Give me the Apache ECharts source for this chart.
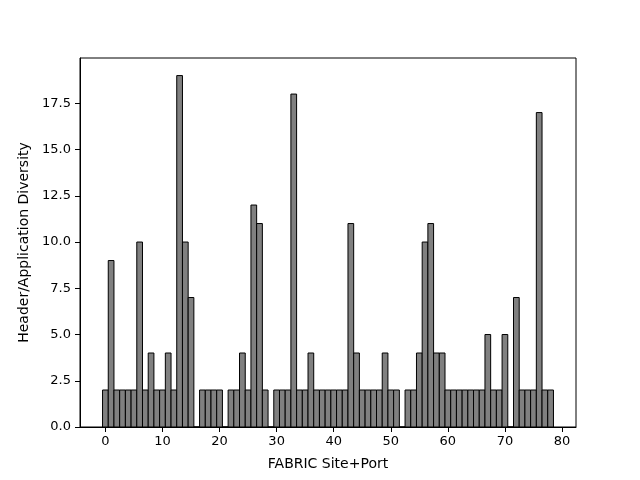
<!DOCTYPE html>
<html>
<head>
    <meta charset="UTF-8">
    <title>diversity</title>
    <script type="text/javascript" src="https://cdn.jsdelivr.net/npm/echarts@6/dist/echarts.min.js"></script>
    <style>
        html, body { margin: 0; padding: 0; background: #fff; }
        #charts { width: 640px; height: 480px; }
    </style>
</head>
<body>
<div id="charts"></div>
<script type="text/javascript">
    // site+port index and diversity per index
    var sites = [];
    for (var i = 0; i <= 78; i++) { sites.push(i); }
    var diversity = [
        2, 9, 2, 2, 2, 2, 10, 2, 4, 2,
        2, 4, 2, 19, 10, 7, 0, 2, 2, 2,
        2, 0, 2, 2, 4, 2, 12, 11, 2, 0,
        2, 2, 2, 18, 2, 2, 4, 2, 2, 2,
        2, 2, 2, 11, 4, 2, 2, 2, 2, 4,
        2, 2, 0, 2, 2, 4, 10, 11, 4, 4,
        2, 2, 2, 2, 2, 2, 2, 5, 2, 2,
        5, 0, 7, 2, 2, 2, 17, 2, 2
    ];
    var xTicks = [0, 10, 20, 30, 40, 50, 60, 70, 80];
    var yTicks = [0, 2.5, 5, 7.5, 10, 12.5, 15, 17.5];

    var data = [];
    for (var k = 0; k < sites.length; k++) {
        data.push([sites[k], diversity[k]]);
    }

    var font = 'DejaVu Sans';
    var chart = echarts.init(document.getElementById('charts'));
    var option = {
        animation: false,
        grid: {
            left: 80, right: 64, top: 58, bottom: 53,
            show: true, borderColor: '#000', borderWidth: 1, backgroundColor: 'transparent'
        },
        xAxis: {
            type: 'value',
            min: -4.45,
            max: 82.45,
            name: 'FABRIC Site+Port',
            nameLocation: 'middle',
            nameGap: 30,
            nameTextStyle: { fontFamily: font, fontSize: 14, color: '#000' },
            splitLine: { show: false },
            axisLine: { show: true, onZero: false, lineStyle: { color: '#000', width: 1 } },
            axisTick: { show: true, length: 5, lineStyle: { color: '#000' }, customValues: xTicks },
            axisLabel: { fontFamily: font, fontSize: 13, color: '#000', margin: 8, customValues: xTicks }
        },
        yAxis: {
            type: 'value',
            min: 0,
            max: 19.95,
            name: 'Header/Application Diversity',
            nameLocation: 'middle',
            nameGap: 46,
            nameTextStyle: { fontFamily: font, fontSize: 14, color: '#000' },
            splitLine: { show: false },
            axisLine: { show: true, onZero: false, lineStyle: { color: '#000', width: 1 } },
            axisTick: { show: true, length: 5, lineStyle: { color: '#000' }, customValues: yTicks },
            axisLabel: {
                fontFamily: font, fontSize: 13, color: '#000', margin: 9, customValues: yTicks,
                formatter: function (v) { return v.toFixed(1); }
            }
        },
        series: [{
            type: 'custom',
            data: data,
            renderItem: function (params, api) {
                var x = api.value(0), y = api.value(1);
                var p0 = api.coord([x - 0.5, y]);
                var p1 = api.coord([x + 0.5, 0]);
                return {
                    type: 'rect',
                    shape: { x: p0[0], y: p0[1], width: p1[0] - p0[0], height: p1[1] - p0[1] },
                    style: { fill: '#808080', stroke: '#000', lineWidth: 1 }
                };
            }
        }]
    };
    chart.setOption(option);
</script>
</body>
</html>
